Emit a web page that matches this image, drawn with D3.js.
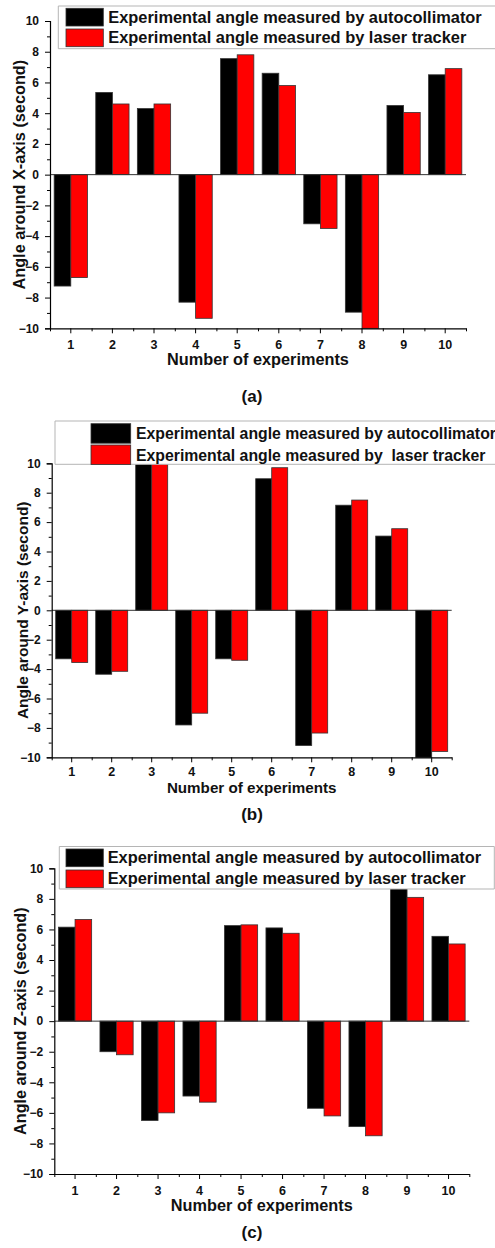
<!DOCTYPE html>
<html>
<head>
<meta charset="utf-8">
<script src="https://cdn.jsdelivr.net/npm/d3@7"></script>
<style>
body { margin: 0; background: #fff; }
svg text { font-family: "Liberation Sans", Arial, sans-serif; font-weight: bold; }
</style>
</head>
<body>
<script>
//three bar panels, one per rotation axis

var experiments = [1, 2, 3, 4, 5, 6, 7, 8, 9, 10]; //experiment numbers on x axis

var yTicks = [-10, -8, -6, -4, -2, 0, 2, 4, 6, 8, 10]; //major ticks
var yMinor = [-9, -7, -5, -3, -1, 1, 3, 5, 7, 9]; //minor ticks

var seriesNames = ["Experimental angle measured by autocollimator",
                   "Experimental angle measured by laser tracker"];
var seriesNamesB = ["Experimental angle measured by autocollimator",
                    "Experimental angle measured by  laser tracker"]; //panel b has the double space

//angle around X-axis (second)
var xAuto  = [-7.25, 5.35, 4.3, -8.3, 7.55, 6.6, -3.2, -8.95, 4.5, 6.5];
var xLaser = [-6.7, 4.6, 4.6, -9.35, 7.8, 5.8, -3.5, -10, 4.05, 6.9];

//angle around Y-axis (second)
var yAuto  = [-3.3, -4.35, 10, -7.8, -3.3, 8.95, -9.2, 7.15, 5.05, -10];
var yLaser = [-3.55, -4.15, 10, -7.0, -3.4, 9.7, -8.35, 7.5, 5.55, -9.6];

//angle around Z-axis (second)
var zAuto  = [6.15, -2.0, -6.5, -4.9, 6.25, 6.1, -5.7, -6.9, 8.8, 5.55];
var zLaser = [6.65, -2.2, -6.0, -5.3, 6.3, 5.75, -6.2, -7.5, 8.1, 5.05];

var colors = ["#000000", "#ff0000"];

var svg = d3.select("body")
            .append("svg")
            .attr("width", 495)
            .attr("height", 1248);

var panels = [
  {auto: xAuto, laser: xLaser, names: seriesNames, title: "Angle around X-axis (second)", tag: "(a)",
   left: 50, right: 466, top: 21, bottom: 328.3,
   lgX: 58.3, lgY: 6, lgH: 42.7, lgW: 460, lgRight: false, swX: 66, swW: 37.3, swY: [8.3, 29], swH: 17.7,
   txX: 108.3, txY: [22.7, 43.3], txSize: 16.4,
   tickY: 348.6, xtY: 365, xtSize: 16.3, ytX: 19, ytSize: 16.3, tagY: 402},
  {auto: yAuto, laser: yLaser, names: seriesNamesB, title: "Angle around Y-axis (second)", tag: "(b)",
   left: 51.7, right: 451.7, top: 463.3, bottom: 757.3,
   lgX: 55, lgY: 421, lgH: 43.3, lgW: 460, lgRight: false, swX: 91, swW: 39.7, swY: [423.7, 445], swH: 19.5,
   txX: 136, txY: [439.3, 460.7], txSize: 15.8,
   tickY: 776.5, xtY: 792.5, xtSize: 15.2, ytX: 22.7, ytSize: 15.5, tagY: 820},
  {auto: zAuto, laser: zLaser, names: seriesNames, title: "Angle around Z-axis (second)", tag: "(c)",
   left: 54.3, right: 469.3, top: 868.3, bottom: 1174,
   lgX: 59.3, lgY: 846.5, lgH: 42.5, lgW: 435, lgRight: true, swX: 66, swW: 37.3, swY: [849, 870], swH: 17.7,
   txX: 107.7, txY: [863.3, 884], txSize: 16.4,
   tickY: 1195, xtY: 1211, xtSize: 16.3, ytX: 20, ytSize: 16.2, tagY: 1238}
];

panels.forEach(function(p) {

  var x = d3.scaleBand() //one band per experiment, bars fill 80% of it
            .domain(experiments)
            .range([p.left, p.right])
            .paddingInner(0.2)
            .paddingOuter(0.1);

  var xEdge = d3.scaleLinear() //for minor ticks between experiments
            .domain([0.5, 10.5])
            .range([p.left, p.right]);

  var y = d3.scaleLinear()
            .domain([-10, 10])
            .range([p.bottom, p.top]);

  var sub = d3.scaleBand() //two bars per group
            .domain([0, 1])
            .range([0, x.bandwidth()]);

  var g = svg.append("g");

  //bars
  [p.auto, p.laser].forEach(function(vals, s) {
    g.selectAll(null)
      .data(vals)
      .enter()
      .append("rect")
      .attr("x", function(d, i) { return x(experiments[i]) + sub(s); })
      .attr("width", sub.bandwidth())
      .attr("y", function(d) { return y(Math.max(d, 0)); })
      .attr("height", function(d) { return Math.abs(y(d) - y(0)); })
      .attr("fill", colors[s])
      .attr("stroke", "#333")
      .attr("stroke-width", 0.8);
  });

  //zero line
  g.append("line")
    .attr("x1", p.left).attr("x2", p.right)
    .attr("y1", y(0)).attr("y2", y(0))
    .attr("stroke", "#333")
    .attr("stroke-width", 1);

  //y axis, major + minor
  var yAx = g.append("g")
    .attr("transform", "translate(" + p.left + ",0)")
    .call(d3.axisLeft(y).tickValues(yTicks).tickSize(5).tickPadding(6).tickFormat(d3.format("d")));
  yAx.selectAll("text").attr("font-size", 12).attr("font-family", null).attr("fill", "#111");
  g.append("g")
    .attr("transform", "translate(" + p.left + ",0)")
    .call(d3.axisLeft(y).tickValues(yMinor).tickSize(3).tickFormat(""))
    .select(".domain").remove();

  //x axis, major + minor
  var xAx = g.append("g")
    .attr("transform", "translate(0," + p.bottom + ")")
    .call(d3.axisBottom(x).tickSize(5).tickSizeOuter(0).tickPadding(6));
  xAx.selectAll("text")
    .attr("font-size", 12.5)
    .attr("font-family", null)
    .attr("fill", "#111")
    .attr("dy", null)
    .attr("y", p.tickY - p.bottom);
  g.append("g")
    .attr("transform", "translate(0," + p.bottom + ")")
    .call(d3.axisBottom(xEdge).tickValues(d3.range(0.5, 11, 1)).tickSize(3).tickFormat(""))
    .select(".domain").remove();

  svg.selectAll(".domain").attr("stroke-width", 1.2);

  //axis titles
  svg.append("text")
    .text("Number of experiments")
    .attr("x", (p.left + p.right) / 2)
    .attr("y", p.xtY)
    .attr("text-anchor", "middle")
    .attr("font-size", p.xtSize + "px")
    .attr("fill", "#111");

  svg.append("text")
    .text(p.title)
    .attr("transform", "translate(" + p.ytX + "," + y(0) + ") rotate(-90)")
    .attr("dy", "0.36em")
    .attr("text-anchor", "middle")
    .attr("font-size", p.ytSize + "px")
    .attr("fill", "#111");

  //panel tag
  svg.append("text")
    .text(p.tag)
    .attr("x", 252)
    .attr("y", p.tagY)
    .attr("text-anchor", "middle")
    .attr("font-size", "17px")
    .attr("fill", "#111");

  //legend (drawn on top of bars)
  var lg = svg.append("g");
  lg.append("rect")
    .attr("x", p.lgX).attr("y", p.lgY)
    .attr("width", p.lgW).attr("height", p.lgH)
    .attr("fill", "#fff")
    .attr("stroke", "none");
  var edge = "M" + (p.lgX + p.lgW) + "," + p.lgY + "H" + p.lgX + "V" + (p.lgY + p.lgH) + "H" + (p.lgX + p.lgW);
  if (p.lgRight) { edge += "V" + p.lgY; }
  lg.append("path")
    .attr("d", edge)
    .attr("fill", "none")
    .attr("stroke", "#b5b5b5")
    .attr("stroke-width", 1);

  p.names.forEach(function(name, s) {
    lg.append("rect")
      .attr("x", p.swX).attr("y", p.swY[s])
      .attr("width", p.swW).attr("height", p.swH)
      .attr("fill", colors[s])
      .attr("stroke", "#333")
      .attr("stroke-width", 0.8);
    lg.append("text")
      .text(name)
      .attr("x", p.txX)
      .attr("y", p.txY[s])
      .attr("font-size", p.txSize + "px")
      .attr("fill", "#111")
      .style("white-space", "pre");
  });
});
</script>
</body>
</html>
